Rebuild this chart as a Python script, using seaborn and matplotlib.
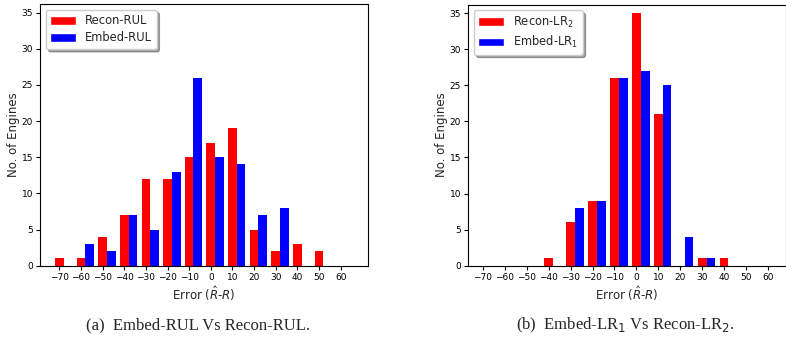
import numpy as np
import pandas as pd
import matplotlib
matplotlib.use("Agg")
import matplotlib.pyplot as plt
import seaborn as sns
from matplotlib.patches import Patch

# ---- data (counts per error bin) ----
error_bins = [-70, -60, -50, -40, -30, -20, -10, 0, 10, 20, 30, 40, 50, 60]

recon_rul = [1, 1, 4, 7, 12, 12, 15, 17, 19, 5, 2, 3, 2, 0]
embed_rul = [0, 3, 2, 7, 5, 13, 26, 15, 14, 7, 8, 0, 0, 0]

recon_lr2 = [0, 0, 0, 1, 6, 9, 26, 35, 21, 0, 1, 1, 0, 0]
embed_lr1 = [0, 0, 0, 0, 8, 9, 26, 27, 25, 4, 1, 0, 0, 0]

xticks = list(range(-70, 61, 10))
yticks = list(range(0, 36, 5))

sns.set_theme(style="ticks")
plt.rcParams['font.family'] = ['DejaVu Sans']
plt.rcParams['axes.edgecolor'] = 'black'
plt.rcParams['axes.linewidth'] = 0.8
plt.rcParams['xtick.color'] = 'black'
plt.rcParams['ytick.color'] = 'black'

fig = plt.figure(figsize=(7.86, 3.37), dpi=100)
ax1 = fig.add_axes([40/786, 1-265.7/337, (368-40)/786, (265.7-4)/337])
ax2 = fig.add_axes([468/786, 1-265.7/337, (785.5-468)/786, (265.7-4.5)/337])

edges = [b - 3 for b in error_bins] + [error_bins[-1] + 7]

def panel(ax, red, blue, red_name, blue_name, xlim):
    df = pd.DataFrame({
        'err': error_bins * 2,
        'count': red + blue,
        'model': [red_name] * len(red) + [blue_name] * len(blue),
    })
    sns.histplot(data=df, x='err', weights='count', hue='model',
                 hue_order=[red_name, blue_name],
                 palette={red_name: '#ff0000', blue_name: '#0000ff'},
                 multiple='dodge', shrink=0.8, bins=edges, alpha=1,
                 linewidth=0, edgecolor='none', legend=False, ax=ax)
    ax.set_xlim(*xlim)
    ax.set_ylim(0, 36.2)
    ax.set_xticks(xticks)
    ax.set_yticks(yticks)
    ax.tick_params(labelsize=6.5, length=3, width=0.8, pad=2)
    ax.set_xlabel(r'Error ($\hat{R}$-$R$)', fontsize=8.5, labelpad=2)
    ax.set_ylabel('No. of Engines', fontsize=8.5, labelpad=1)
    for s in ax.spines.values():
        s.set_visible(True)
        s.set_color('black')
    handles = [Patch(facecolor='#ff0000'), Patch(facecolor='#0000ff')]
    ax.legend(handles, [red_name, blue_name], loc='upper left', fontsize=8.3,
              shadow=True, fancybox=True, framealpha=1, edgecolor='#cccccc',
              handlelength=2.2, handleheight=0.8, borderaxespad=0.5,
              labelspacing=0.35, handletextpad=0.8)

panel(ax1, recon_rul, embed_rul, 'Recon-RUL', 'Embed-RUL', (-78.9, 72.6))
panel(ax2, recon_lr2, embed_lr1, r'Recon-LR$_2$', r'Embed-LR$_1$', (-76.8, 68.0))

serif = ['Liberation Serif', 'DejaVu Serif']
fig.text(198/786, 1-325/337, '(a)  Embed-RUL Vs Recon-RUL.', ha='center', va='center',
         fontsize=12, family=serif)
fig.text(625/786, 1-325/337, r'(b)  Embed-LR$_1$ Vs Recon-LR$_2$.', ha='center', va='center',
         fontsize=12, family=serif)

fig.savefig('out.png', dpi=100)
